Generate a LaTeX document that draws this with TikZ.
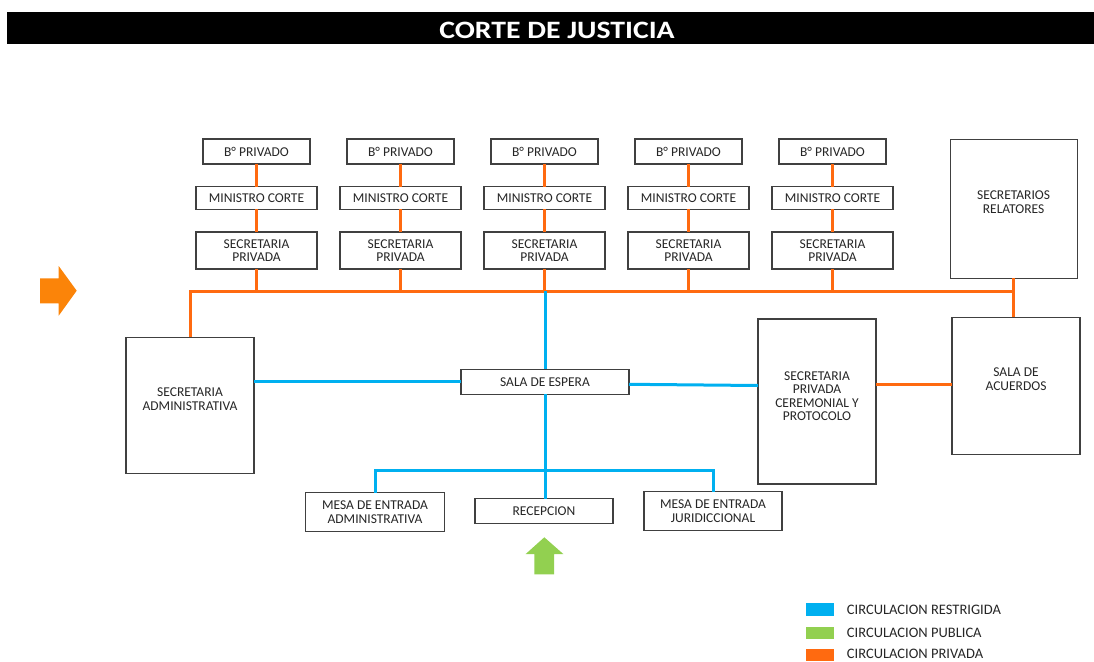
\documentclass[tikz,border=0pt]{standalone}
\usepackage{fontspec}
\setmainfont{Carlito}
\definecolor{orl}{HTML}{FF6A10}
\definecolor{ora}{HTML}{FB8409}
\definecolor{blu}{HTML}{00B0F0}
\definecolor{grn}{HTML}{92D050}
\definecolor{bdr}{HTML}{404040}
\definecolor{txt}{HTML}{262626}
\begin{document}
\begin{tikzpicture}[x=1pt,y=-1pt,
  box/.style={draw=bdr,line width=1.1pt,fill=white,inner sep=0pt,outer sep=0pt,align=center,
    text=txt,font=\fontsize{13.5}{13.5}\selectfont},
  legtext/.style={anchor=west,inner sep=0pt,text=txt,font=\fontsize{14.5}{15}\selectfont},
  oline/.style={draw=orl,line width=3pt},
  bline/.style={draw=blu,line width=3pt}]
\useasboundingbox (0,0) rectangle (1094,661);
% title
\fill[black] (7,12) rectangle (1094,44);
\node[text=white,font=\fontsize{25}{28}\selectfont\bfseries] (title) at (557,30) {\scalebox{1.19}[1]{CORTE DE JUSTICIA}};
\coordinate (busL) at (190,291);
\coordinate (busR) at (1013.3,291);
\coordinate (busM) at (545,291);
\coordinate (bbus) at (545,470.5);
% columns
\foreach \i/\cx in {1/256.5,2/400.5,3/544.5,4/688.5,5/832.5}{
  \node[box,minimum width=107,minimum height=25] (b\i) at (\cx,151.5) {B° PRIVADO};
  \node[box,minimum width=121,minimum height=22.5] (m\i) at (\cx,198) {MINISTRO CORTE};
  \node[box,minimum width=121,minimum height=37] (s\i) at (\cx,250.5) {SECRETARIA\\PRIVADA};
  \draw[oline] (b\i.south) -- (m\i.north);
  \draw[oline] (m\i.south) -- (s\i.north);
  \draw[oline] (s\i.south) -- (s\i.south |- busL);
}
\node[box,minimum width=127,minimum height=139] (rel) at (1013.6,208.8) {SECRETARIOS\\RELATORES\\[0pt]};
\node[box,minimum width=128,minimum height=137] (acu) at (1016,385.7) {SALA DE\\ACUERDOS\\[-0.5pt]};
\node[box,minimum width=118,minimum height=165] (cer) at (817,401.5) {SECRETARIA\\PRIVADA\\CEREMONIAL Y\\PROTOCOLO\\[-2.5pt]};
\node[box,minimum width=128,minimum height=136] (adm) at (190,405.3) {SECRETARIA\\ADMINISTRATIVA\\[-1.5pt]};
\node[box,minimum width=168,minimum height=25] (esp) at (545,381.8) {SALA DE ESPERA};
\node[box,minimum width=139,minimum height=38.5] (mea) at (375,512) {MESA DE ENTRADA\\ADMINISTRATIVA};
\node[box,minimum width=138,minimum height=24.5] (rec) at (544,511) {RECEPCION};
\node[box,minimum width=138,minimum height=39] (mej) at (713,511) {MESA DE ENTRADA\\JURIDICCIONAL};
% orange
\draw[oline] (adm.north) -- (busL) -- (busR);
\draw[oline] (rel.south) -- (rel.south |- acu.north);
\draw[oline] (cer.east |- 0,384) -- (acu.west |- 0,384);
% blue
\draw[bline] (busM) -- (esp.north);
\draw[bline] (esp.south) -- (esp.south |- rec.north);
\draw[bline] (mea.north) |- (bbus) -| (mej.north);
\draw[bline] (adm.east |- esp.west) -- (esp.west);
\draw[bline] ([yshift=-2.5pt]esp.east) -- (cer.west |- 0,385.5);
% arrows
\fill[ora] (40,278.3) -- (58.7,278.3) -- (58.7,266) -- (76.7,290.7) -- (58.7,315.7) -- (58.7,303.3) -- (40,303.3) -- cycle;
\fill[grn] (534.3,574.3) -- (534.3,554) -- (525.7,554) -- (544.3,537.3) -- (563.3,554) -- (554,554) -- (554,574.3) -- cycle;
% legend
\fill[blu] (806,603.3) rectangle (834.3,615.7);
\fill[grn] (806,626.7) rectangle (834.3,639);
\fill[orl] (806,649.3) rectangle (834.3,661);
\node[legtext] (l1) at (846.7,609.5) {CIRCULACION RESTRIGIDA};
\node[legtext] (l2) at (846.7,632.5) {CIRCULACION PUBLICA};
\node[legtext] (l3) at (846.7,654.3) {CIRCULACION PRIVADA};
\end{tikzpicture}
\end{document}
